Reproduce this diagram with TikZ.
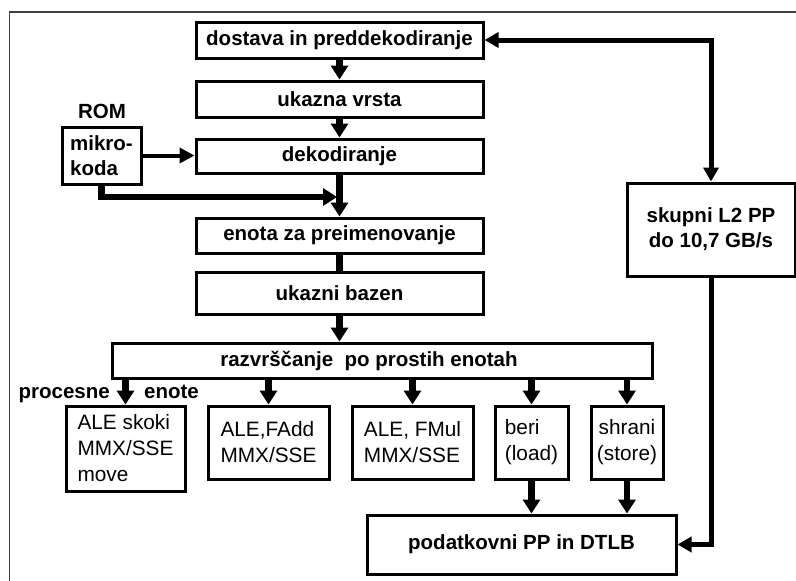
\documentclass[tikz,border=0pt]{standalone}
\usepackage{fontspec}
\setmainfont{Liberation Sans}
\usetikzlibrary{arrows.meta}
\newcommand\bigbf{\fontsize{20.5}{25}\selectfont\bfseries}
\newcommand\unitfont{\fontsize{20.8}{26}\selectfont}
\tikzset{
  box/.style={draw, line width=3pt, inner sep=0pt, font=\bigbf},
  unitbox/.style={draw, line width=3pt, inner sep=0pt, font=\unitfont, align=left},
  bigarrow/.style={line width=6.5pt, -{Triangle[width=17pt,length=14pt]}},
  plainline/.style={line width=6.5pt},
  medarrow/.style={line width=4pt, -{Triangle[width=15pt,length=15pt]}},
  busarrow/.style={line width=5pt, {Triangle[width=15pt,length=14pt]}-{Triangle[width=15pt,length=14pt]}},
  busend/.style={line width=5pt, -{Triangle[width=15pt,length=14pt]}},
  lbl/.style={inner sep=0pt, font=\bigbf}
}
\begin{document}
\begin{tikzpicture}[x=1pt,y=-1pt]
\useasboundingbox (0,0) rectangle (796,581);
\fill[white] (0,0) rectangle (796,581);
% frame
\draw[line width=1.5pt, black!75] (9.5,581) -- (9.5,12) -- (796,12);

% main column
\node[box, minimum width=287pt, minimum height=36pt] (dost) at (339.5,40) {dostava in preddekodiranje};
\node[box, minimum width=287pt, minimum height=36pt] (ukaz) at (339.5,99) {ukazna vrsta};
\node[box, minimum width=287pt, minimum height=34pt] (dek) at (339.5,156) {dekodiranje};
\node[box, minimum width=287pt, minimum height=35pt] (enota) at (339.5,235.5) {enota za preimenovanje};
\node[box, minimum width=287pt, minimum height=42pt] (bazen) at (339.5,293) {ukazni bazen};
\node[box, minimum width=540pt, minimum height=35pt] (razv) at (382,360.5) {razvrščanje\ \ po prostih enotah\hspace*{26pt}};

% ROM
\node[lbl] (rom) at (102,111) {ROM};
\node[box, minimum width=79pt, minimum height=57pt, align=left] (mk) at (101.5,155.5) {mikro-\\koda};

% L2
\node[box, minimum width=168pt, minimum height=93pt, align=center] (l2) at (711,229.5) {skupni L2 PP\\do 10,7 GB/s};

% units
\node[unitbox, minimum width=119pt, minimum height=85pt] (u1) at (125.5,448.5) {ALE skoki\\MMX/SSE\\move};
\node[unitbox, minimum width=121pt, minimum height=73pt] (u2) at (268.5,442.5) {ALE,FAdd\\MMX/SSE};
\node[unitbox, minimum width=121pt, minimum height=73pt] (u3) at (412.5,442.5) {ALE, FMul\\MMX/SSE};
\node[unitbox, minimum width=73pt, minimum height=73pt] (u4) at (531.5,442.5) {beri\\(load)};
\node[unitbox, minimum width=72pt, minimum height=73pt, align=center] (u5) at (627,442.5) {shrani\\(store)};

\node[box, minimum width=309pt, minimum height=59pt] (pod) at (521.5,544.5) {podatkovni PP in DTLB};

% labels
\node[lbl, anchor=base east] (proc) at (110,398) {procesne};
\node[lbl, anchor=base west] (enote) at (144,398) {enote};

% connectors main column
\draw[bigarrow] (dost.south) -- (ukaz.north);
\draw[bigarrow] (ukaz.south) -- (dek.north);
\draw[bigarrow] (dek.south) -- (enota.north);
\draw[plainline] (enota.south) -- (bazen.north);
\draw[bigarrow] (bazen.south) -- (bazen.south |- razv.north);

% microcode
\draw[medarrow] (mk.east) -- (mk.east -| dek.west);
\coordinate (join) at (337,197);
\draw[bigarrow] (mk.south) |- (join);

% units
\foreach \u in {u1,u2,u3,u4,u5}
  \draw[bigarrow] (\u.north |- razv.south) -- (\u.north);
\draw[bigarrow] (u4.south) -- (u4.south |- pod.north);
\draw[bigarrow] (u5.south) -- (u5.south |- pod.north);

% L2 bus
\draw[busarrow] (dost.east) -| (l2.north);
\draw[busend] (l2.south) |- (pod.east);
\end{tikzpicture}
\end{document}
